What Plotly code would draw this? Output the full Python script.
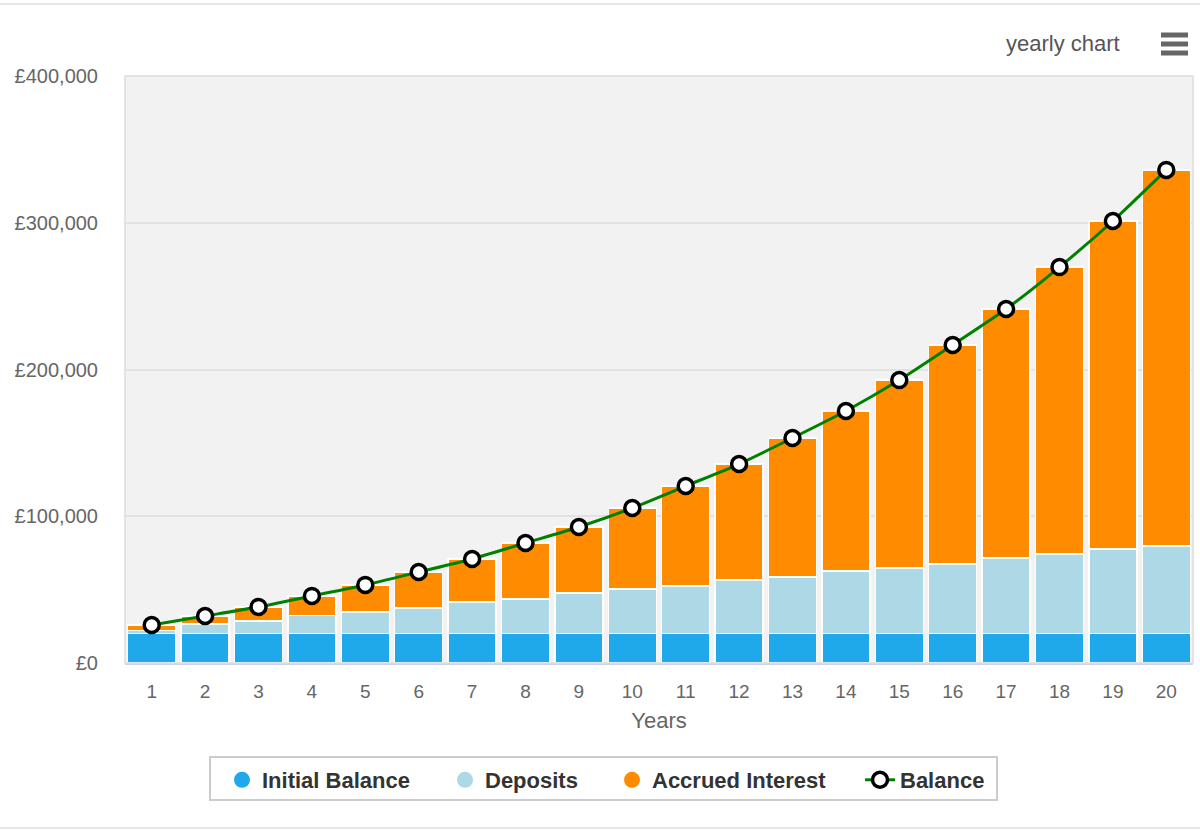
import plotly.graph_objects as go

years = [str(i) for i in range(1, 21)]
initial_balance = [20000] * 20
deposits = [2100, 6600, 8600, 12400, 14800, 17500, 21600, 23600, 27700, 30400,
            32500, 36600, 38600, 42700, 44700, 47500, 51600, 54300, 57700, 59700]
balance = [25900, 32000, 38200, 45700, 53200, 62000, 70900, 81800, 92700, 105600,
           120600, 135600, 153300, 171700, 192800, 216700, 241200, 269800, 301200, 336000]
accrued_interest = [b - i - d for b, i, d in zip(balance, initial_balance, deposits)]
y_tick_vals = [0, 100000, 200000, 300000, 400000]
y_tick_text = ["£0", "£100,000", "£200,000", "£300,000", "£400,000"]

C_INIT = "#1fa9ea"
C_DEP = "#add8e6"
C_INT = "#ff8c00"
C_LINE = "#008000"
FONT = "Liberation Sans, Arial, sans-serif"

L, R, T, B = 125, 7, 76, 168
W, H = 1200, 831
pw, ph = W - L - R, H - T - B
def px(x): return (x - L) / pw
def py(y): return (H - B - y) / ph

fig = go.Figure()
for name, vals, col in [("Initial Balance", initial_balance, C_INIT),
                        ("Deposits", deposits, C_DEP),
                        ("Accrued Interest", accrued_interest, C_INT)]:
    fig.add_trace(go.Bar(x=years, y=vals, name=name,
                         marker=dict(color=col, line=dict(color="white", width=1.5)),
                         showlegend=False))

legend_names = ["legend", "legend2", "legend3", "legend4"]
for (name, col), lg in zip([("Initial Balance", C_INIT), ("Deposits", C_DEP),
                            ("Accrued Interest", C_INT)], legend_names[:3]):
    fig.add_trace(go.Scatter(x=[None], y=[None], mode="markers", name="<b>" + name + "</b>",
                             marker=dict(color=col, size=22, symbol="circle"), legend=lg))
fig.add_trace(go.Scatter(x=years, y=balance, mode="lines+markers", name="<b>Balance</b>",
                         line=dict(color=C_LINE, width=3, shape="spline", smoothing=0.6),
                         marker=dict(color="white", size=15, line=dict(color="black", width=3.5)),
                         legend="legend4"))

shapes = [
    dict(type="rect", xref="paper", yref="paper", x0=0, x1=1, y0=0, y1=1,
         line=dict(color="#dddddd", width=1.5), layer="above"),
    dict(type="line", xref="paper", yref="paper", x0=px(0), x1=px(1200), y0=py(4), y1=py(4),
         line=dict(color="#e8e8e8", width=2)),
    dict(type="line", xref="paper", yref="paper", x0=px(0), x1=px(1200), y0=py(828), y1=py(828),
         line=dict(color="#e8e8e8", width=2)),
    dict(type="rect", xref="paper", yref="paper", x0=px(210), x1=px(997), y0=py(757), y1=py(800),
         line=dict(color="#cccccc", width=2), fillcolor="rgba(0,0,0,0)"),
]
for yy in (35, 44, 53):
    shapes.append(dict(type="line", xref="paper", yref="paper", x0=px(1161), x1=px(1188),
                       y0=py(yy), y1=py(yy), line=dict(color="#666666", width=5)))

legend_common = dict(orientation="h", xanchor="left", yanchor="middle", y=py(780),
                     bgcolor="rgba(0,0,0,0)", borderwidth=0,
                     font=dict(size=22, color="#333333", family=FONT),
                     itemsizing="trace")
leg_x = [222, 445, 612, 860]

fig.update_layout(
    width=W, height=H,
    margin=dict(l=L, r=R, t=T, b=B),
    barmode="stack", bargap=0.1,
    paper_bgcolor="white", plot_bgcolor="#f2f2f2",
    font=dict(family=FONT, color="#666666"),
    xaxis=dict(type="category", range=[-0.5, 19.5], showgrid=False,
               showline=True, linecolor="#ccd6eb", linewidth=2,
               ticks="outside", ticklen=10, tickcolor="rgba(0,0,0,0)",
               tickfont=dict(size=19, color="#666666"),
               title=dict(text="Years", font=dict(size=22, color="#666666"), standoff=12)),
    yaxis=dict(range=[0, 400000], tickvals=y_tick_vals, ticktext=y_tick_text,
               showgrid=True, gridcolor="#e2e2e2", gridwidth=1.5, zeroline=False,
               ticks="outside", ticklen=22, tickcolor="rgba(0,0,0,0)",
               tickfont=dict(size=20, color="#666666")),
    legend=dict(x=px(leg_x[0]), **legend_common),
    legend2=dict(x=px(leg_x[1]), **legend_common),
    legend3=dict(x=px(leg_x[2]), **legend_common),
    legend4=dict(x=px(leg_x[3]), **legend_common),
    shapes=shapes,
    annotations=[dict(text="yearly chart", xref="paper", yref="paper", x=px(1122), y=py(44),
                      xanchor="right", yanchor="middle", showarrow=False,
                      font=dict(size=22, color="#555555", family=FONT))],
)
fig.write_html("out.html", config={"displayModeBar": False},
               post_script="document.body.style.margin='0';")
